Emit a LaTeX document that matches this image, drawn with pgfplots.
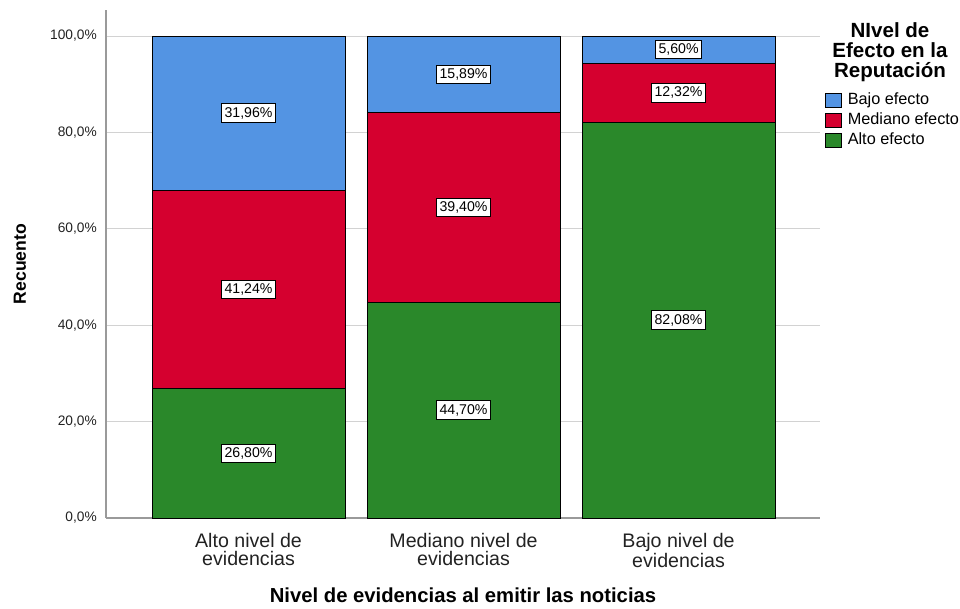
\documentclass[border=0pt]{standalone}
\usepackage{fontspec}
\setmainfont{Liberation Sans}
\usepackage{pgfplots}
\usepackage{pgfplotstable}
\pgfplotsset{compat=1.18}

\definecolor{bajo}{HTML}{5394E3}
\definecolor{mediano}{HTML}{D5002F}
\definecolor{alto}{HTML}{2A882A}
\definecolor{gridc}{HTML}{D2D2D2}
\definecolor{axc}{HTML}{9A9A9A}
\definecolor{txt}{HTML}{222222}

% porcentajes por columna (apilados de abajo hacia arriba)
\pgfplotstableread{
x alto mediano bajo
0 26.80 41.24 31.96
1 44.70 39.40 15.89
2 82.08 12.32 5.60
}\datos

\pgfplotsset{
  base/.style={
    scale only axis,
    width=535.5pt, height=381pt,
    at={(79.5pt,67.5pt)}, anchor=south west,
    xmin=-0.663, xmax=2.658,
    ymin=0, ymax=105.4,
  },
}

\begin{document}
\begin{tikzpicture}
\path[use as bounding box] (0,0) rectangle (720pt,456pt);

\begin{axis}[
  base,
  ybar stacked,
  bar width=0.898,
  axis x line*=bottom, axis y line*=left,
  axis line style={axc, line width=1.1pt, -},
  ymajorgrids, grid style={gridc, line width=0.75pt},
  major tick length=0pt,
  ytick={0,20,40,60,80,100},
  yticklabels={{0,0\%},{20,0\%},{40,0\%},{60,0\%},{80,0\%},{100,0\%}},
  yticklabel style={font=\fontsize{10.3}{12}\selectfont, text=txt, inner sep=0pt, xshift=-6.75pt},
  xtick={0,1,2},
  xticklabels={{Alto nivel de\\evidencias},{Mediano nivel de\\evidencias},{Bajo nivel de\\evidencias}},
  xticklabel style={align=center, font=\fontsize{14.7}{13.5}\selectfont, text=txt, inner sep=0pt, yshift=-11.5pt},
  every axis y label/.style={at={(axis description cs:-0.1204,0.5)}, rotate=90, anchor=center},
  ylabel={\bfseries Recuento},
  ylabel style={font=\fontsize{13.2}{15}\selectfont},
  every axis x label/.style={at={(axis description cs:0.5,-0.1673)}, anchor=base, inner sep=0pt},
  xlabel={\bfseries Nivel de evidencias al emitir las noticias},
  xlabel style={font=\fontsize{15.2}{16}\selectfont},
  reverse legend,
  legend style={at={(axis description cs:1.007,0.8425)}, anchor=north west,
    draw=none, fill=none, inner sep=0pt, row sep=0pt,
    font=\fontsize{12.2}{14.6}\selectfont,
    nodes={inner sep=0pt, text height=10.5pt, text depth=4.5pt}},
  legend cell align=left,
  legend image code/.code={
    \path[draw=none, fill=none] (0pt,0pt) -- (16.5pt,0pt);
    \draw[#1, draw=black, line width=0.75pt] (0pt,-5.25pt) rectangle (11.5pt,5.25pt);
  },
]
\addplot[fill=alto, draw=black, line width=0.75pt] table[x=x, y=alto] {\datos};
\addlegendentry{Alto efecto}
\addplot[fill=mediano, draw=black, line width=0.75pt] table[x=x, y=mediano] {\datos};
\addlegendentry{Mediano efecto}
\addplot[fill=bajo, draw=black, line width=0.75pt] table[x=x, y=bajo] {\datos};
\addlegendentry{Bajo efecto}
\end{axis}

% etiquetas de los segmentos, en el centro de cada tramo
\begin{axis}[
  base, hide axis,
  nodes near coords,
  point meta=explicit symbolic,
  every node near coord/.append style={anchor=center, fill=white, draw=black,
    line width=0.75pt, inner xsep=2.1pt, inner ysep=2.6pt, font=\fontsize{10.6}{12}\selectfont},
]
\addplot[draw=none, mark=none] coordinates {
  (0,13.40) [26,80\%] (0,47.42) [41,24\%] (0,84.02) [31,96\%]
  (1,22.35) [44,70\%] (1,64.40) [39,40\%] (1,92.05) [15,89\%]
  (2,41.04) [82,08\%] (2,88.24) [12,32\%] (2,97.20) [5,60\%]
};
\end{axis}

\node[align=center, font=\bfseries\fontsize{15.4}{14.8}\selectfont, anchor=center]
  at (667.5pt,417pt) {NIvel de\\Efecto en la\\Reputación};
\end{tikzpicture}
\end{document}
